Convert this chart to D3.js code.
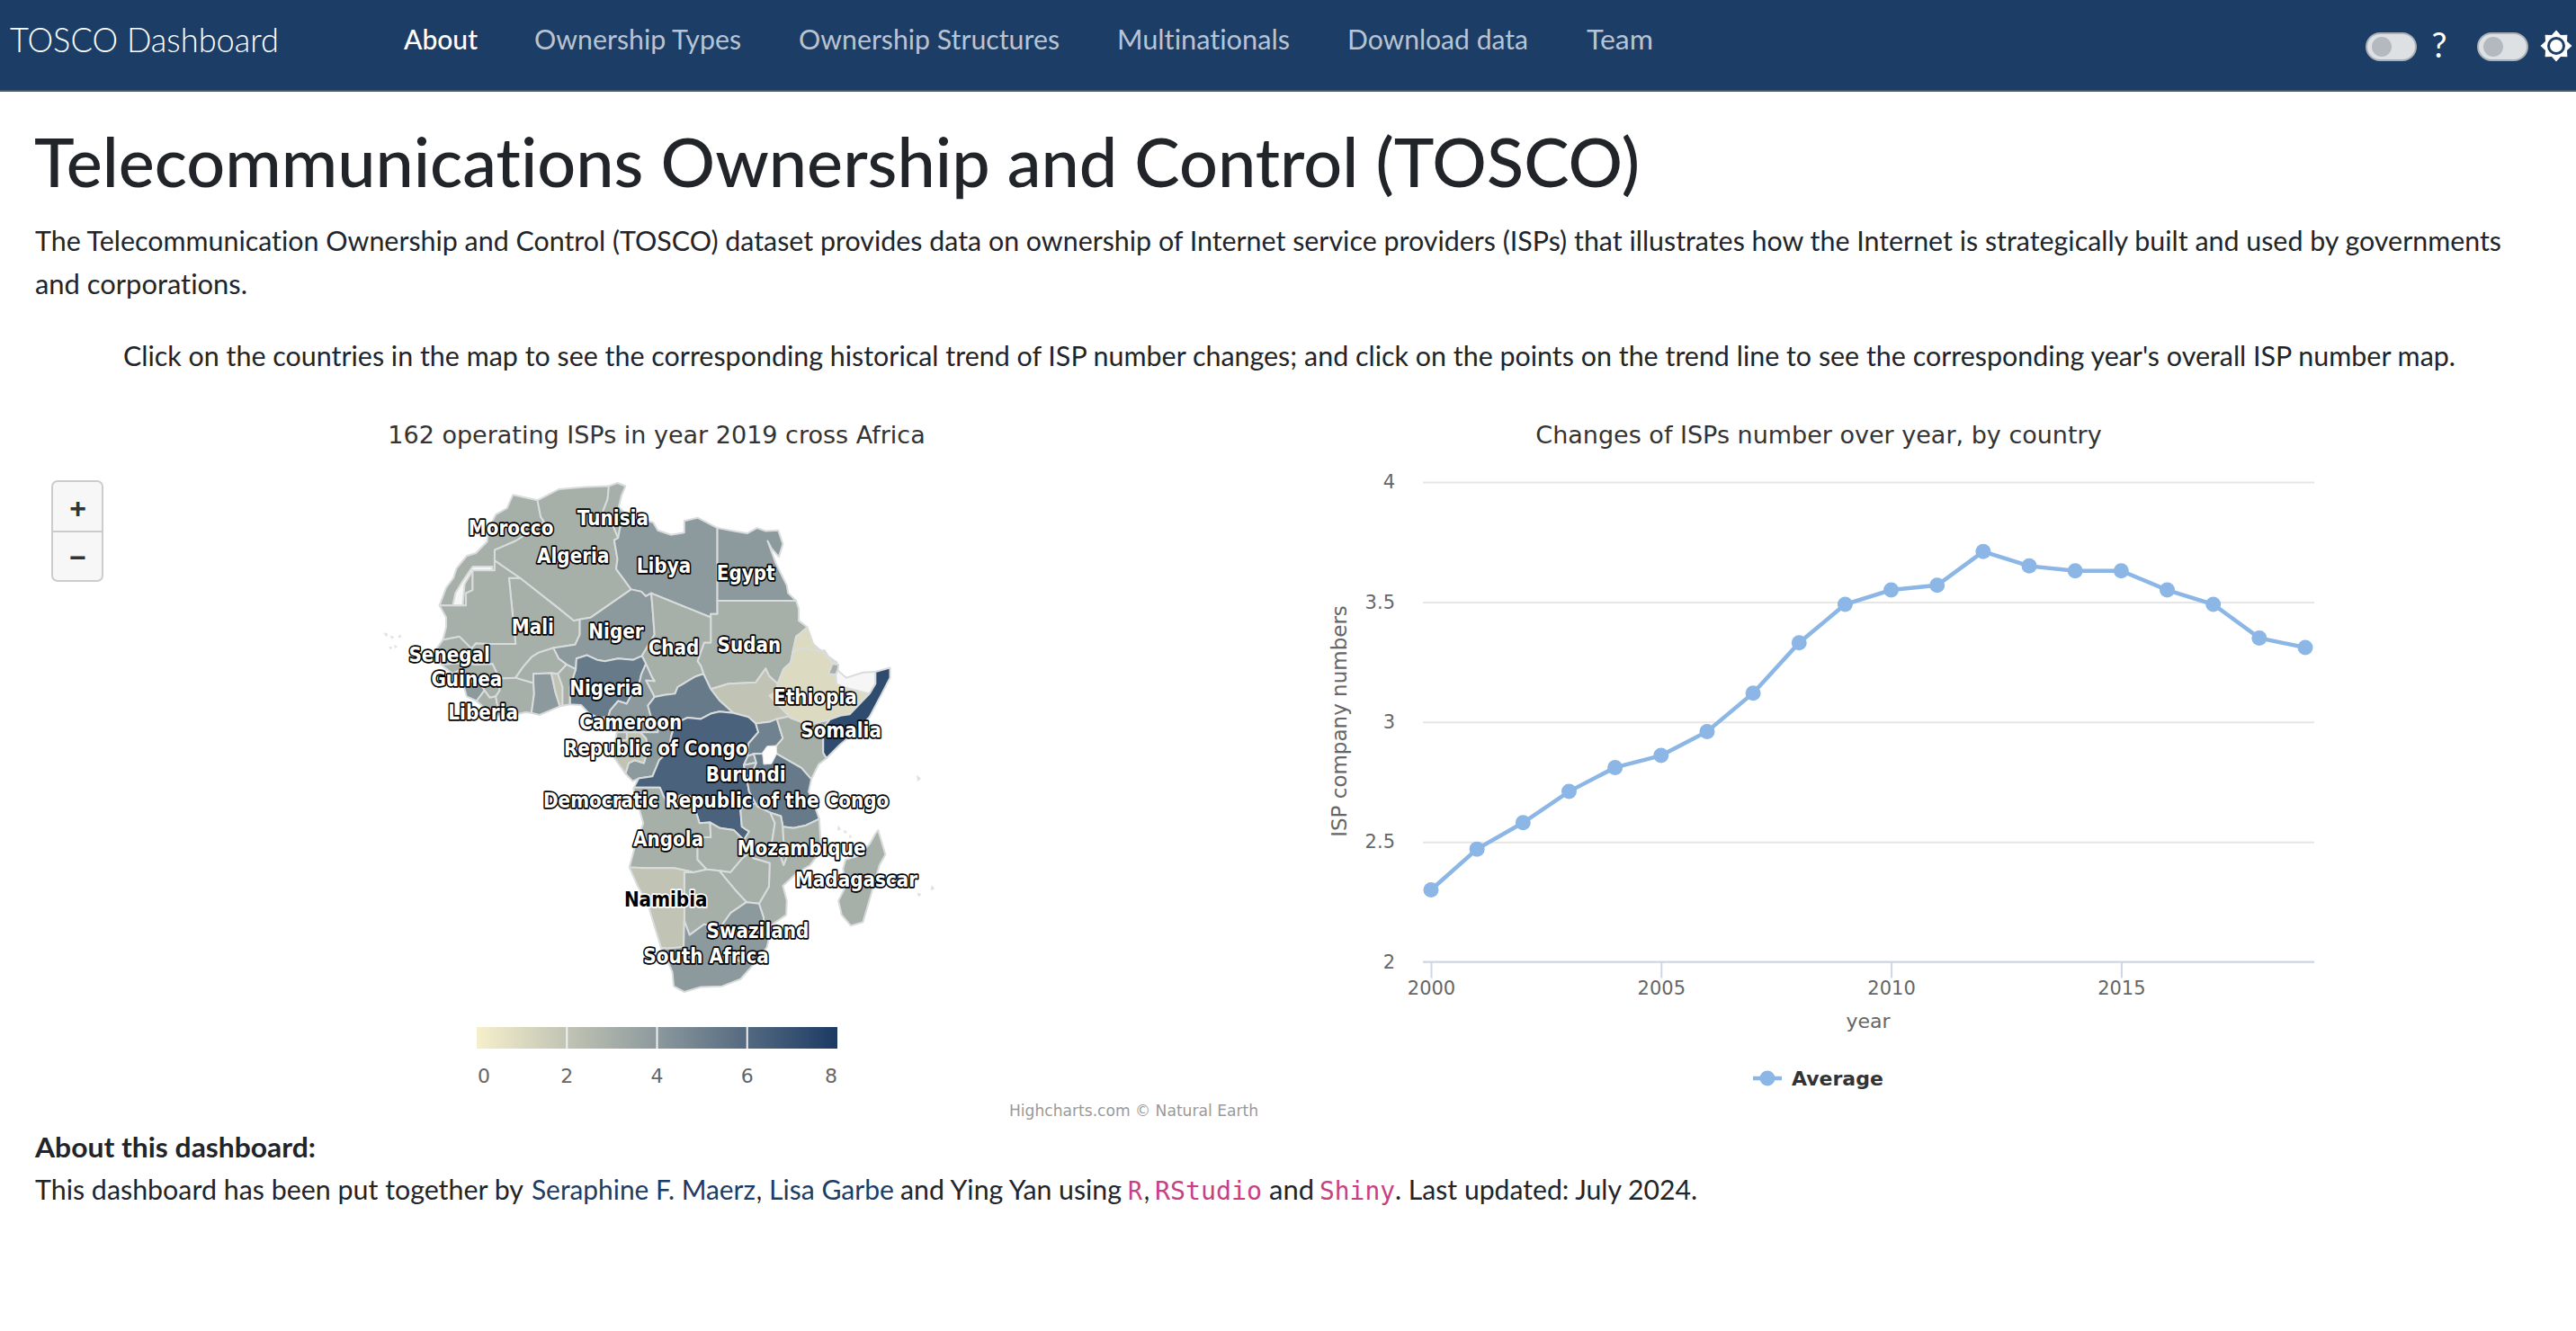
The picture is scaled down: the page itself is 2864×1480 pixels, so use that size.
<!DOCTYPE html>
<html>
<head>
<meta charset="utf-8">
<title>TOSCO Dashboard</title>
<script src="https://d3js.org/d3.v7.min.js"></script>
<style>
  html, body { margin: 0; padding: 0; background: #fff; overflow: hidden; }
  svg { display: block; }
  text { font-variant-ligatures: none; }
  .page { font-family: Lato, "Open Sans", sans-serif; fill: #212529; }
  .hc { font-family: "DejaVu Sans", sans-serif; }
</style>
</head>
<body>
<div id="page"></div>
<script>
// trend chart
var years = d3.range(2000, 2020)
var avgIsps = [2.30, 2.47, 2.58, 2.71, 2.81, 2.86, 2.96, 3.12, 3.33, 3.49, 3.55, 3.57, 3.71, 3.65, 3.63, 3.63, 3.55, 3.49, 3.35, 3.31]
var yTicks = [2, 2.5, 3, 3.5, 4]
var xTicks = [2000, 2005, 2010, 2015]

// map legend
var legendTicks = [0, 2, 4, 6, 8]
var legendColors = ["#f6efcb", "#8c999d", "#1b3a63"]

// map: ISP count per country (null = no data), rings are lon/lat
var countryNames = ["Morocco", "Western Sahara", "Algeria", "Tunisia", "Libya", "Egypt", "Sudan", "South Sudan", "Mali", "Niger", "Chad", "Nigeria", "Mauritania", "Senegal", "Guinea-Bissau", "Guinea", "Sierra Leone", "Liberia", "Ivory Coast", "Burkina Faso", "Ghana", "Togo", "Benin", "Cameroon", "Central African Republic", "Republic of Congo", "Gabon", "Equatorial Guinea", "Democratic Republic of the Congo", "Uganda", "Kenya", "Rwanda", "Burundi", "Tanzania", "Ethiopia", "Eritrea", "Djibouti", "Somaliland", "Somalia", "Angola", "Zambia", "Malawi", "Mozambique", "Zimbabwe", "Botswana", "Namibia", "South Africa", "Lesotho", "Swaziland", "Madagascar"]
var countryValues = [3, null, 3, 3, 4, 4, 3, 2, 3, 4, 3, 5.3, 3, 3, 3, 3, 4, 3, 3, 3, 4, 2, 3, 4, 5.3, 4, 2, 3, 6.3, 5, 3, 4, 4, 5.3, 1, 1, 3, null, 7.3, 3, 3, 3, 3, 3, 3, 2, 4, 3, 3, 3]
var countryRings = [
  [[-5.9,35.8],[-2.2,35.1],[-1.7,33],[-1.2,32.4],[-3.7,30.9],[-5.5,29.9],[-8.67,28.7],[-8.67,27.3],[-8.67,26],[-12,26],[-12,23.4],[-13,23],[-13,21.3],[-17,21.3],[-16,23.7],[-14.9,25],[-14.4,26.3],[-12.9,27.9],[-11.5,28.3],[-9.8,29.8],[-9.6,31.5],[-8.5,33.3],[-6.8,34.1]],
  [[-12,26.5],[-9,26.5],[-9,25.7],[-12.2,25.7],[-13.2,24.2],[-13.5,21.3],[-15,21.3],[-14.6,23],[-13.5,24.6]],
  [[-2.2,35.1],[1,36.5],[5,36.8],[8.6,36.9],[8.4,35.2],[7.6,33.5],[8.3,33],[9.1,32.1],[10,30.3],[9.4,30],[9.9,27.5],[9.7,26.2],[11.97,23.5],[5.8,19.45],[4.2,19.2],[3.3,19],[1.2,20.7],[-4.83,25],[-8.67,27.3],[-8.67,28.7],[-5.5,29.9],[-3.7,30.9],[-1.2,32.4],[-1.7,33]],
  [[9.9,37.3],[11.1,36.9],[10.5,35.7],[10.1,34.3],[11.1,33.3],[11.5,32.4],[10.3,31.7],[10,30.3],[9.1,32.1],[8.3,33],[7.6,33.5],[8.4,35.2],[8.6,36.9]],
  [[11.5,32.4],[13,32.9],[15.3,32.3],[16,31.3],[18,30.7],[20,31],[20,32.5],[22,32.9],[25,31.6],[25,22],[25,20],[24,20],[24,19.5],[15,23],[14.2,22.6],[13.5,23.2],[11.97,23.5],[9.7,26.2],[9.9,27.5],[9.4,30],[10,30.3],[10.3,31.7]],
  [[25,31.6],[27.5,31.2],[29.5,30.9],[31,31.6],[32.3,31.2],[34.2,31.3],[34.9,29.5],[34.3,27.8],[33.2,28.9],[32.6,29.9],[33.8,27],[35.5,24],[35.7,23],[36.9,22],[25,22]],
  [[25,22],[36.9,22],[37.3,20.8],[37.3,19],[38.6,18],[37.4,17],[36.9,16.6],[36.4,14.3],[36.1,12.7],[35,11.7],[34.1,9.5],[32.8,10.7],[32.3,11.8],[30.8,9.7],[29,9.6],[26.7,9.5],[24,8.7],[22.9,11],[22.5,12.2],[22,12.9],[23,15.7],[24,15.7],[24,19.5],[24,20],[25,20]],
  [[24,8.7],[26.7,9.5],[29,9.6],[30.8,9.7],[32.3,11.8],[32.8,10.7],[34.1,9.5],[34.1,8.4],[32.9,7.7],[34,6.5],[35.9,4.6],[34,4.2],[33,3.8],[30.8,3.5],[29.7,4.5],[27.4,5.1],[25.3,7]],
  [[-4.83,25],[1.2,20.7],[3.3,19],[4.2,19.2],[4.2,16.9],[3.5,15.4],[0.2,14.9],[-2,14.2],[-3,13.6],[-4.4,12],[-5.5,10.4],[-8,10.3],[-8.3,11],[-9,12.5],[-11.4,12.4],[-12.2,14.8],[-11.5,15.6],[-9.3,15.5],[-5.5,15.5],[-6.5,25]],
  [[3.6,11.7],[3.7,13.3],[5.3,13.8],[6.8,13.1],[8,12.9],[10,13.3],[12.3,13.1],[13.6,13.7],[15.5,16.9],[15.2,20.9],[15,23],[14.2,22.6],[13.5,23.2],[11.97,23.5],[5.8,19.45],[4.2,19.2],[4.2,16.9],[3.5,15.4],[0.2,14.9],[1,13.3],[2.2,12.4]],
  [[13.6,13.7],[14.2,12.5],[15.1,10.5],[15.5,9.9],[14.2,10],[15.5,7.5],[17,7.8],[18.6,8],[19,9],[21.7,10.6],[22.9,11],[22.5,12.2],[22,12.9],[23,15.7],[24,15.7],[24,19.5],[15,23],[15.2,20.9],[15.5,16.9]],
  [[2.7,6.4],[4.4,6.3],[5.5,5.1],[7,4.4],[8.5,4.5],[8.8,5.5],[10,6.9],[11.3,6.5],[12.2,8.2],[13.2,9.6],[13.5,10.9],[14.2,12.5],[13.6,13.7],[12.3,13.1],[10,13.3],[8,12.9],[6.8,13.1],[5.3,13.8],[3.7,13.3],[3.6,11.7],[2.7,9]],
  [[-8.67,27.3],[-4.83,25],[-6.5,25],[-5.5,15.5],[-9.3,15.5],[-11.5,15.6],[-12.2,14.8],[-14,16.6],[-16.5,16.1],[-16,18],[-16,19.5],[-17,21.3],[-13,21.3],[-13,23],[-12,23.4],[-12,26],[-8.67,26]],
  [[-17.5,14.7],[-16.5,16.1],[-14,16.6],[-12.2,14.8],[-11.4,12.4],[-13.7,12.6],[-16.7,12.4],[-16.8,13.4]],
  [[-16.7,12.4],[-13.7,12.6],[-13.7,11.7],[-15,11],[-16.3,12]],
  [[-15,11],[-13.7,11.7],[-13.7,12.6],[-11.4,12.4],[-9,12.5],[-8.3,11],[-8,10.3],[-7.9,8.5],[-8.5,7.6],[-9.4,7.4],[-10.2,8.5],[-10.7,9.3],[-12.4,9.9],[-13.3,9]],
  [[-13.3,9],[-12.4,9.9],[-10.7,9.3],[-10.2,8.5],[-11.4,6.9],[-12.9,7.6]],
  [[-11.4,6.9],[-10.2,8.5],[-9.4,7.4],[-8.5,7.6],[-8.3,6.5],[-7.5,4.4],[-9.2,5]],
  [[-7.5,4.4],[-8.3,6.5],[-8.5,7.6],[-7.9,8.5],[-8,10.3],[-5.5,10.4],[-2.8,9.6],[-2.7,8],[-3.1,5.1],[-4,5.2]],
  [[-5.5,10.4],[-4.4,12],[-3,13.6],[-2,14.2],[0.2,14.9],[1,13.3],[2.2,12.4],[0.9,11],[-0.1,11.1],[-2.8,11],[-2.8,9.6]],
  [[-3.1,5.1],[-2.7,8],[-2.8,9.6],[-2.8,11],[-0.1,11.1],[0.5,8.3],[1.2,6.1],[-1.9,4.8]],
  [[1.2,6.1],[0.5,8.3],[-0.1,11.1],[0.9,11],[1.6,9],[1.6,6.2]],
  [[1.6,6.2],[1.6,9],[0.9,11],[2.2,12.4],[3.6,11.7],[2.7,9],[2.7,6.4]],
  [[8.5,4.5],[9.7,3.9],[9.8,2.2],[11.3,2.2],[13.3,2.2],[16,2.2],[16.2,3.6],[15,4.4],[14.5,6.2],[15.5,7.5],[14.2,10],[15.5,9.9],[15.1,10.5],[14.2,12.5],[13.5,10.9],[13.2,9.6],[12.2,8.2],[11.3,6.5],[10,6.9],[8.8,5.5]],
  [[15,4.4],[14.5,6.2],[15.5,7.5],[17,7.8],[18.6,8],[19,9],[21.7,10.6],[22.9,11],[24,8.7],[25.3,7],[27.4,5.1],[25.3,5.3],[24,5],[22.5,4.2],[20.5,4.4],[18.6,3.5],[16.2,3.6]],
  [[11.1,-3.9],[12.2,-5],[13.1,-4.6],[15.2,-4.3],[16.2,-2],[17.7,-0.6],[18,1.5],[18.6,3.5],[16.2,3.6],[16,2.2],[13.3,2.2],[14.2,1.3],[14.5,-0.2],[13.9,-2.4],[12.5,-2],[11.6,-2.4]],
  [[9.6,1],[11.3,1],[11.3,2.2],[13.3,2.2],[14.2,1.3],[14.5,-0.2],[13.9,-2.4],[12.5,-2],[11.6,-2.4],[11.1,-3.9],[9.3,-1.5],[8.7,-0.6],[9.5,0.3]],
  [[9.6,1],[9.8,2.2],[11.3,2.2],[11.3,1]],
  [[12.4,-5.9],[13.1,-4.6],[15.2,-4.3],[16.2,-2],[17.7,-0.6],[18,1.5],[18.6,3.5],[20.5,4.4],[22.5,4.2],[24,5],[25.3,5.3],[27.4,5.1],[29.7,4.5],[30.8,3.5],[31.2,2.2],[29.7,0.5],[29.6,-1.4],[29,-2.7],[29.4,-4.4],[29.8,-6.5],[30.8,-8.2],[28.9,-8.5],[28.5,-9.2],[28.7,-11.5],[29.8,-12.2],[29,-13.4],[27.5,-12],[25.4,-11.7],[23.9,-10.9],[22.3,-11],[21.8,-9.5],[21.7,-7.3],[19.5,-7],[17.6,-8.1],[16.9,-7.2],[16.3,-5.9]],
  [[30.5,-1.05],[33.9,-1],[33.9,0.1],[34.9,1.3],[34,4.2],[33,3.8],[30.8,3.5],[31.2,2.2],[29.7,0.5],[29.6,-1.4]],
  [[41.5,-1.7],[40.3,-2.6],[39.2,-4.7],[37.7,-3.1],[33.9,-1],[33.9,0.1],[34.9,1.3],[34,4.2],[35.9,4.6],[36,4.4],[38.1,3.6],[39.6,3.5],[41,3.9],[42,4.1],[41,2.8],[41,-0.9]],
  [[29,-2.7],[29.6,-1.4],[30.5,-1.05],[30.9,-2.4],[30.5,-2.4]],
  [[29,-2.7],[30.5,-2.4],[30.9,-2.4],[30.3,-3.7],[29.4,-4.4]],
  [[30.5,-1.05],[33.9,-1],[37.7,-3.1],[39.2,-4.7],[38.8,-6.5],[39.5,-8],[40.4,-10.4],[38.4,-11.3],[36.5,-11.7],[34.9,-11.5],[34.6,-10],[33,-9.5],[31,-8.6],[30.8,-8.2],[29.8,-6.5],[29.4,-4.4],[30.3,-3.7],[30.9,-2.4]],
  [[36.4,14.3],[37.9,14.9],[39.8,14.5],[41.2,14.5],[42.4,12.5],[41.8,11],[42.9,10.9],[43,9.5],[44,9],[48,8],[45,4.9],[43.6,4.7],[42,4.1],[41,3.9],[39.6,3.5],[38.1,3.6],[36,4.4],[35.9,4.6],[34,6.5],[32.9,7.7],[34.1,8.4],[34.1,9.5],[35,11.7],[36.1,12.7]],
  [[36.4,14.3],[36.9,16.6],[37.4,17],[38.6,18],[39.5,15.5],[41.2,14],[43.1,12.7],[42.4,12.5],[41.2,14.5],[39.8,14.5],[37.9,14.9]],
  [[41.8,11],[42.4,12.5],[43.3,12.4],[43.2,11.5],[42.9,10.9]],
  [[43.2,11.5],[44.5,10.4],[47,11.2],[48.9,11.3],[48.9,9.5],[48,8],[44,9],[43,9.5],[42.9,10.9]],
  [[48.9,11.3],[51.1,11.9],[51.1,10.4],[49.8,7.9],[48,4.5],[46,2.4],[43.5,0.3],[41.5,-1.7],[41,-0.9],[41,2.8],[42,4.1],[43.6,4.7],[45,4.9],[48,8],[48.9,9.5]],
  [[12.4,-5.9],[16.3,-5.9],[16.9,-7.2],[17.6,-8.1],[19.5,-7],[21.7,-7.3],[21.8,-9.5],[22.3,-11],[23.9,-10.9],[24,-13],[22,-13],[22,-16.2],[23.4,-17.6],[21.4,-18],[18.5,-17.4],[14,-17.4],[11.7,-17.3],[12.5,-14.5],[13.8,-11],[13.2,-9],[12.3,-6.1]],
  [[22,-13],[24,-13],[23.9,-10.9],[25.4,-11.7],[27.5,-12],[29,-13.4],[29.8,-12.2],[28.7,-11.5],[28.5,-9.2],[28.9,-8.5],[30.8,-8.2],[31,-8.6],[33,-9.5],[33.7,-11],[33.2,-14],[30.2,-15],[28.8,-16],[27,-18],[25.3,-17.8],[23.4,-17.6],[22,-16.2]],
  [[33,-9.5],[34.6,-10],[34.9,-11.5],[35,-13.5],[35.9,-14.9],[35,-17],[34.3,-15],[33.2,-14],[33.7,-11]],
  [[40.4,-10.4],[40.7,-15],[39,-17],[36.9,-18.2],[34.9,-19.9],[35.5,-22],[35.4,-24],[33,-25.5],[32.9,-26.8],[32.1,-26.8],[31.9,-25.8],[32,-24.4],[31.3,-22.4],[32.8,-20],[32.9,-16.7],[30.4,-16],[30.2,-15],[33.2,-14],[34.3,-15],[35,-17],[35.9,-14.9],[35,-13.5],[34.9,-11.5],[36.5,-11.7],[38.4,-11.3]],
  [[25.3,-17.8],[27,-18],[28.8,-16],[30.2,-15],[30.4,-16],[32.9,-16.7],[32.8,-20],[31.3,-22.4],[29.4,-22.2],[27.7,-20.5],[26,-18.6]],
  [[20,-18],[21.4,-18],[23.4,-17.6],[25.3,-17.8],[26,-18.6],[27.7,-20.5],[29.4,-22.2],[27,-23.7],[25.5,-25.7],[23,-25.3],[20.8,-26.8],[20,-24.8],[20,-22]],
  [[11.7,-17.3],[14,-17.4],[18.5,-17.4],[21.4,-18],[20,-18],[20,-22],[20,-24.8],[19.9,-28.5],[17.4,-28.7],[16.5,-28.6],[14.5,-22.5],[13,-20]],
  [[16.5,-28.6],[17.4,-28.7],[19.9,-28.5],[20,-24.8],[20.8,-26.8],[23,-25.3],[25.5,-25.7],[27,-23.7],[29.4,-22.2],[31.3,-22.4],[32,-24.4],[31.9,-25.8],[32.1,-26.8],[32.9,-26.8],[32.5,-28.5],[30.9,-30.5],[28.5,-33],[25.7,-34],[22.5,-34.1],[20,-34.8],[18.4,-34],[18.2,-32],[17.2,-29.8]],
  [[28.5,-29],[29.4,-29.5],[28.5,-30.6],[27,-29.6]],
  [[31,-25.9],[31.9,-25.8],[32.1,-26.8],[31.2,-27.3],[30.8,-26.5]],
  [[49.3,-12],[50.4,-15.5],[49.5,-17],[47.8,-22.5],[47,-25],[45.2,-25.5],[43.8,-24],[43.3,-22],[44.4,-20],[44,-17.5],[44.4,-16.2],[46.3,-15.7],[48,-14],[48.9,-12.5]]
]

// white holes and the faint island groups around the continent
var lakeRing = [[31.8,-0.9],[32.5,0.1],[33.9,0.2],[34,-1],[33.2,-2.5],[32,-2.6]]
var islandRings = [
  [[-25.4,17.1],[-24.9,17.1],[-25,16.6]], [[-24.4,16.7],[-23.9,16.5],[-24.2,16.3]], [[-23,16.9],[-22.8,16.5],[-23.2,16.5]],
  [[-23.8,15.3],[-23.4,15.1],[-23.7,14.9]], [[-24.6,15],[-24.2,15],[-24.4,14.7]],
  [[43.3,-11.4],[43.6,-11.9],[43.2,-12]], [[44.2,-12],[44.6,-12.3],[44.2,-12.4]], [[45,-12.7],[45.3,-12.9],[45,-13.1]],
  [[55.2,-4.2],[55.7,-4.6],[55.3,-5]], [[55.3,-20.9],[55.8,-21.1],[55.4,-21.4]], [[57.4,-19.9],[57.8,-20.3],[57.3,-20.5]]
]

// data labels, centred on lon/lat
var labelNames = ["Morocco", "Tunisia", "Algeria", "Libya", "Egypt", "Mali", "Niger", "Chad", "Sudan", "Senegal", "Guinea", "Liberia", "Nigeria", "Ethiopia", "Cameroon", "Somalia", "Republic of Congo", "Burundi", "Democratic Republic of the Congo", "Angola", "Mozambique", "Madagascar", "Namibia", "Swaziland", "South Africa"]
var labelLons = [-6.2, 9.2, 3.2, 16.9, 29.3, -2.9, 9.7, 18.4, 29.8, -15.5, -12.9, -10.4, 8.2, 39.8, 11.9, 43.7, 15.7, 29.3, 24.8, 17.6, 37.7, 46, 17.2, 31.1, 23.3]
var labelLats = [31.7, 33, 28.06, 26.75, 25.8, 18.2, 17.5, 15, 15.5, 14, 10.35, 5.3, 8.9, 7.65, 3.85, 2.65, -0.05, -3.9, -7.65, -13.2, -14.4, -18.9, -21.7, -26.1, -29.7]

// page text
var navNames = ["About", "Ownership Types", "Ownership Structures", "Multinationals", "Download data", "Team"]
var navEdges = [[449, 531], [594, 824], [888, 1178], [1242, 1434], [1498, 1699], [1764, 1838]]

var svg = d3.select("#page").append("svg").attr("width", 2864).attr("height", 1480)

function put(str, x, y, size, width, color, weight, family) {
	var t = svg.append("text")
		.attr("class", family ? null : "page")
		.attr("x", x).attr("y", y)
		.attr("font-size", size)
		.attr("textLength", width)
		.attr("lengthAdjust", "spacingAndGlyphs")
		.text(str)
	if (color) t.style("fill", color)
	if (weight) t.attr("font-weight", weight)
	if (family) t.attr("font-family", family)
	return t
}

// ---- navbar
svg.append("rect").attr("width", 2864).attr("height", 100).attr("fill", "#1c3d66")
svg.append("rect").attr("y", 100).attr("width", 2864).attr("height", 2).attr("fill", "#46586d")
put("TOSCO Dashboard", 11, 58, 38, 299, "#ffffff", 300)
navNames.forEach(function (name, i) {
	put(name, navEdges[i][0], 55, 30, navEdges[i][1] - navEdges[i][0], i == 0 ? "#ffffff" : "#b9c3d1", i == 0 ? 500 : 400)
})

function toggle(x) {
	svg.append("rect").attr("x", x).attr("y", 37).attr("width", 55).attr("height", 30).attr("rx", 15)
		.attr("fill", "#dee1e4").attr("stroke", "#a9b0b8").attr("stroke-width", 2)
	svg.append("circle").attr("cx", x + 17).attr("cy", 52).attr("r", 11).attr("fill", "#b4b9c0")
}
toggle(2631)
toggle(2755)
svg.append("text").attr("x", 2712).attr("y", 64).attr("text-anchor", "middle").attr("font-size", 38)
	.attr("font-family", "Lato").attr("fill", "#fff").text("?")
var sunRadius = d3.lineRadial().angle(function (d) { return d * Math.PI / 8 }).radius(function (d) { return d % 2 ? 13 : 17.5 })
svg.append("path").attr("transform", "translate(2842,51)").attr("d", sunRadius(d3.range(16)) + "Z").attr("fill", "#fff")
svg.append("circle").attr("cx", 2842).attr("cy", 51).attr("r", 8.5).attr("fill", "#fff").attr("stroke", "#1c3d66").attr("stroke-width", 3)

// ---- headings and paragraph
put("Telecommunications Ownership and Control (TOSCO)", 38, 208, 76, 1785, null, 500)
put("The Telecommunication Ownership and Control (TOSCO) dataset provides data on ownership of Internet service providers (ISPs) that illustrates how the Internet is strategically built and used by governments", 39, 279, 30, 2742)
put("and corporations.", 39, 327, 30, 236)
put("Click on the countries in the map to see the corresponding historical trend of ISP number changes; and click on the points on the trend line to see the corresponding year's overall ISP number map.", 137, 407, 30, 2593)

// ---- map
var lonScale = d3.scaleLinear().domain([-17.5, 51.3]).range([485, 991])
// latitude spacing is not even in the reference's projection
var latScale = d3.scaleLinear().domain([37.3, 31.5, 22, -1.7, -17, -34.8]).range([537, 588, 668, 843, 962, 1103])
var colorScale = d3.scaleLinear().domain([0, 4, 8]).range(legendColors)
var mapPath = d3.geoPath(d3.geoTransform({
	point: function (lon, lat) { this.stream.point(lonScale(lon), latScale(lat)) }
}))

function ringFeature(ring) {
	return { type: "Feature", geometry: { type: "Polygon", coordinates: [ring.concat([ring[0]])] } }
}

svg.append("g").selectAll("path")
	.data(countryRings)
	.enter().append("path")
	.attr("d", function (d) { return mapPath(ringFeature(d)) })
	.attr("fill", function (d, i) { return countryValues[i] == null ? "#f6f6f6" : colorScale(countryValues[i]) })
	.attr("stroke", "#d9dcdc").attr("stroke-width", 2).attr("stroke-linejoin", "round")

svg.append("path").attr("d", mapPath(ringFeature(lakeRing))).attr("fill", "#fff").attr("stroke", "#e3e3e3")
svg.append("g").selectAll("path")
	.data(islandRings)
	.enter().append("path")
	.attr("d", function (d) { return mapPath(ringFeature(d)) })
	.attr("fill", "#dcdcdc").attr("stroke", "#e6e6e6")

svg.append("g").selectAll("text")
	.data(labelNames)
	.enter().append("text")
	.attr("class", "hc")
	.attr("x", function (d, i) { return lonScale(labelLons[i]) })
	.attr("y", function (d, i) { return latScale(labelLats[i]) })
	.attr("dy", "0.38em")
	.attr("text-anchor", "middle")
	.attr("font-size", 23)
	.attr("font-weight", "bold")
	.attr("fill", function (d) { return d == "Namibia" ? "#000" : "#fff" })
	.attr("stroke", function (d) { return d == "Namibia" ? "#fff" : "#000" })
	.attr("stroke-width", 3.5)
	.style("paint-order", "stroke")
	.attr("stroke-linejoin", "round")
	.text(function (d) { return d })
	.each(function () {
		// the reference's bold face is narrower than DejaVu
		d3.select(this)
			.attr("textLength", this.getComputedTextLength() * 0.87)
			.attr("lengthAdjust", "spacingAndGlyphs")
	})

svg.append("text").attr("class", "hc").attr("x", 730).attr("y", 493).attr("text-anchor", "middle")
	.attr("font-size", 27).attr("fill", "#333").text("162 operating ISPs in year 2019 cross Africa")

// zoom buttons
svg.append("rect").attr("x", 58).attr("y", 535).attr("width", 56).attr("height", 111).attr("rx", 6)
	.attr("fill", "#f7f7f7").attr("stroke", "#cccccc").attr("stroke-width", 2)
svg.append("line").attr("x1", 58).attr("x2", 114).attr("y1", 591).attr("y2", 591).attr("stroke", "#cccccc").attr("stroke-width", 2)
svg.selectAll(".zoombtn").data(["+", "−"]).enter().append("text")
	.attr("class", "zoombtn")
	.attr("x", 86.5).attr("y", function (d, i) { return 576 + i * 55 })
	.attr("text-anchor", "middle").attr("font-family", "Liberation Sans").attr("font-weight", "bold")
	.attr("font-size", 32).attr("fill", "#333").text(function (d) { return d })

// legend gradient
var legendScale = d3.scaleLinear().domain([0, 8]).range([530, 931])
var gradient = svg.append("defs").append("linearGradient").attr("id", "legend-gradient")
gradient.selectAll("stop").data(legendColors).enter().append("stop")
	.attr("offset", function (d, i) { return i / 2 })
	.attr("stop-color", function (d) { return d })
svg.append("rect").attr("x", legendScale(0)).attr("y", 1142).attr("width", legendScale(8) - legendScale(0)).attr("height", 24)
	.attr("fill", "url(#legend-gradient)")
svg.append("g").selectAll("line").data(legendTicks.slice(1, 4)).enter().append("line")
	.attr("x1", legendScale).attr("x2", legendScale).attr("y1", 1142).attr("y2", 1166)
	.attr("stroke", "#f0f0f0").attr("stroke-width", 2)
svg.append("g").selectAll("text").data(legendTicks).enter().append("text")
	.attr("class", "hc")
	.attr("x", function (d) { return d == 0 ? 531 : d == 8 ? 931 : legendScale(d) })
	.attr("y", 1204)
	.attr("text-anchor", function (d) { return d == 0 ? "start" : d == 8 ? "end" : "middle" })
	.attr("font-size", 22).attr("fill", "#666").text(function (d) { return d })

put("Highcharts.com © Natural Earth", 1122, 1241, 18, 277, "#999999", null, "DejaVu Sans")

// ---- trend chart
var x = d3.scaleLinear().domain([2000, 2019]).range([1591, 2563])
var y = d3.scaleLinear().domain([2, 4]).range([1069.5, 536])

svg.append("g").attr("transform", "translate(1582,0)")
	.call(d3.axisLeft(y).tickValues(yTicks).tickSize(-991).tickFormat(function (d) { return d }))
	.call(function (g) {
		g.select(".domain").remove()
		g.selectAll(".tick line").attr("stroke", "#e6e6e6").attr("stroke-width", 2)
		g.selectAll(".tick text").attr("x", -31).attr("class", "hc").attr("font-size", 21).attr("fill", "#666")
	})
svg.append("g").attr("transform", "translate(0,1069.5)")
	.call(d3.axisBottom(x).tickValues(xTicks).tickSize(18).tickSizeOuter(0).tickFormat(d3.format("d")))
	.call(function (g) {
		g.select(".domain").attr("d", "M1582,0H2573").attr("stroke", "#ccd6eb").attr("stroke-width", 2)
		g.selectAll(".tick line").attr("stroke", "#ccd6eb").attr("stroke-width", 2)
		g.selectAll(".tick text").attr("y", 22).attr("class", "hc").attr("font-size", 21).attr("fill", "#666")
	})

var trendLine = d3.line().x(function (d, i) { return x(years[i]) }).y(function (d) { return y(d) })
svg.append("path").datum(avgIsps).attr("d", trendLine).attr("fill", "none").attr("stroke", "#8bb6e6").attr("stroke-width", 4.5)
svg.append("g").selectAll("circle").data(avgIsps).enter().append("circle")
	.attr("cx", function (d, i) { return x(years[i]) })
	.attr("cy", function (d) { return y(d) })
	.attr("r", 8.5).attr("fill", "#8bb6e6")

svg.append("text").attr("class", "hc").attr("x", 2022).attr("y", 493).attr("text-anchor", "middle")
	.attr("font-size", 27).attr("fill", "#333").text("Changes of ISPs number over year, by country")
svg.append("text").attr("class", "hc").attr("transform", "translate(1497,802) rotate(-90)").attr("text-anchor", "middle")
	.attr("font-size", 23).attr("fill", "#666").text("ISP company numbers")
svg.append("text").attr("class", "hc").attr("x", 2077).attr("y", 1143).attr("text-anchor", "middle")
	.attr("font-size", 22).attr("fill", "#666").text("year")

svg.append("line").attr("x1", 1949).attr("x2", 1981).attr("y1", 1199).attr("y2", 1199).attr("stroke", "#8bb6e6").attr("stroke-width", 4.5)
svg.append("circle").attr("cx", 1965).attr("cy", 1199).attr("r", 8.5).attr("fill", "#8bb6e6")
svg.append("text").attr("class", "hc").attr("x", 1992).attr("y", 1207)
	.attr("font-size", 22).attr("font-weight", "bold").attr("fill", "#333").text("Average")

// ---- footer
put("About this dashboard:", 39, 1287, 30, 312, null, 700)
put("This dashboard has been put together by", 39, 1334, 30, 543)
put("Seraphine F. Maerz", 591, 1334, 30, 249, "#1c3d66")
put(",", 841, 1334, 30, 6)
put("Lisa Garbe", 855, 1334, 30, 139, "#1c3d66")
put("and Ying Yan using", 1001, 1334, 30, 246)
put("R", 1254, 1334, 28, 16, "#c8407f", null, "DejaVu Sans Mono")
put(",", 1272, 1334, 30, 6)
put("RStudio", 1284, 1334, 28, 119, "#c8407f", null, "DejaVu Sans Mono")
put("and", 1411, 1334, 30, 50)
put("Shiny", 1467, 1334, 28, 84, "#c8407f", null, "DejaVu Sans Mono")
put(". Last updated: July 2024.", 1551, 1334, 30, 336)
</script>
</body>
</html>
